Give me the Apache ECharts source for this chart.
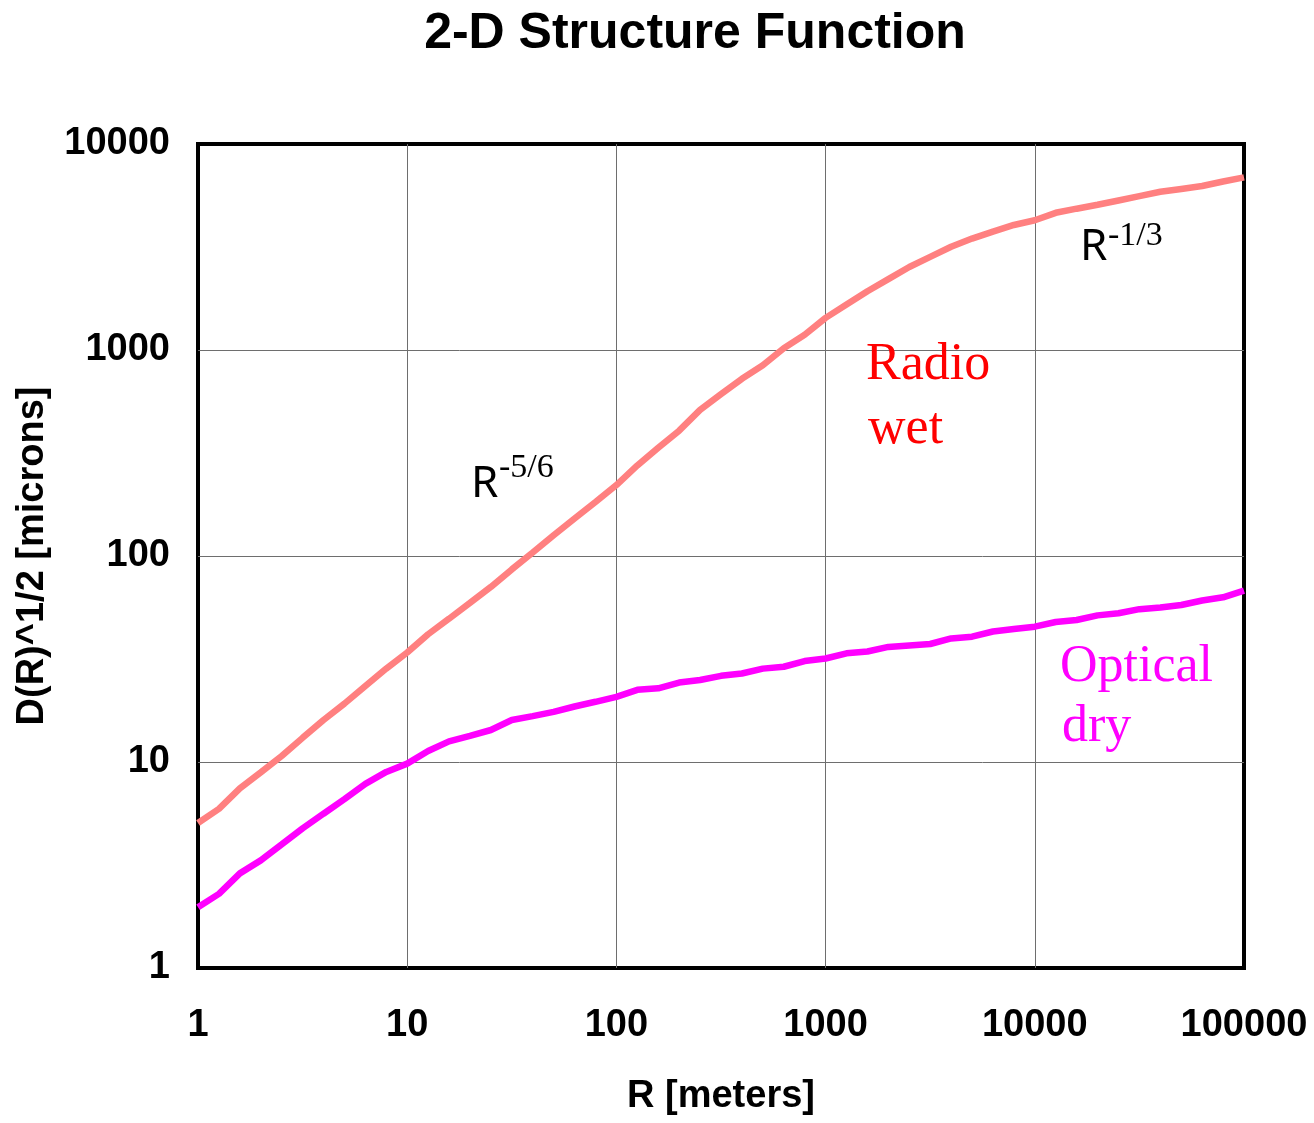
<!DOCTYPE html>
<html>
<head>
<meta charset="utf-8">
<title>2-D Structure Function</title>
<script src="https://cdn.jsdelivr.net/npm/echarts@6/dist/echarts.min.js"></script>
<style>
  html, body { margin: 0; padding: 0; background: #fff; }
  #chart { width: 1314px; height: 1123px; }
</style>
</head>
<body>
<div id="chart"></div>
<script>
// Separation R in meters, 10 samples per decade
const rMeters = [
  1, 1.259, 1.585, 1.995, 2.512, 3.162, 3.981, 5.012, 6.31, 7.943,
  10, 12.59, 15.85, 19.95, 25.12, 31.62, 39.81, 50.12, 63.1, 79.43,
  100, 125.9, 158.5, 199.5, 251.2, 316.2, 398.1, 501.2, 631, 794.3,
  1000, 1259, 1585, 1995, 2512, 3162, 3981, 5012, 6310, 7943,
  10000, 12589, 15849, 19953, 25119, 31623, 39811, 50119, 63096, 79433,
  100000
];

// D(R)^1/2 in microns, radio (wet) path
const radioWet = [
  5.06, 5.92, 7.45, 8.91, 10.7, 13.1, 16.0, 19.2, 23.4, 28.4,
  34.0, 41.7, 49.6, 59.2, 70.8, 86.1, 104, 126, 152, 183,
  221, 275, 335, 406, 512, 610, 725, 843, 1021, 1186,
  1432, 1663, 1928, 2208, 2529, 2832, 3170, 3475, 3758, 4045,
  4266, 4634, 4853, 5070, 5321, 5585, 5861, 6053, 6252, 6577,
  6887
];

// D(R)^1/2 in microns, optical (dry) path
const opticalDry = [
  1.97, 2.29, 2.88, 3.33, 3.98, 4.76, 5.61, 6.6, 7.83, 8.95,
  9.82, 11.3, 12.6, 13.4, 14.3, 16.0, 16.7, 17.5, 18.6, 19.6,
  20.7, 22.4, 22.8, 24.3, 25.0, 26.2, 26.9, 28.4, 29.0, 30.9,
  31.8, 33.7, 34.4, 36.2, 36.8, 37.4, 39.8, 40.6, 43.0, 44.2,
  45.4, 47.8, 48.9, 51.5, 52.7, 55.2, 56.2, 57.8, 60.8, 63.0,
  67.9
];

const xRange = [1, 100000];
const yRange = [1, 10000];

const sansBold = '"Liberation Sans", Arial, sans-serif';
const serif = '"Liberation Serif", "Times New Roman", serif';
const plainSans = '"Noto Sans", "Open Sans", sans-serif';

const pairs = (xs, ys) => xs.map((x, i) => [x, ys[i]]);
const tickText = v => String(Math.round(v));

const gridLine = {
  show: true, showMinLine: false, showMaxLine: false,
  lineStyle: { color: '#6e6e6e', width: 1 }
};

const chart = echarts.init(document.getElementById('chart'), null, { renderer: 'canvas' });

chart.setOption({
  backgroundColor: '#ffffff',
  animation: false,
  title: {
    text: '2-D Structure Function',
    left: 690,
    top: 4,
    textAlign: 'center',
    textStyle: { fontFamily: sansBold, fontWeight: 'bold', fontSize: 50, color: '#000' }
  },
  grid: {
    left: 198, top: 144, right: 70, bottom: 155,
    show: true, borderColor: '#000', borderWidth: 4, backgroundColor: '#fff'
  },
  xAxis: {
    type: 'log', logBase: 10, min: xRange[0], max: xRange[1],
    name: 'R [meters]', nameLocation: 'middle', nameGap: 110,
    nameTextStyle: { fontFamily: sansBold, fontWeight: 'bold', fontSize: 38, color: '#000' },
    axisLine: { show: false }, axisTick: { show: false },
    axisLabel: { formatter: tickText, margin: 39, fontFamily: sansBold, fontWeight: 'bold', fontSize: 38, color: '#000' },
    splitLine: gridLine
  },
  yAxis: {
    type: 'log', logBase: 10, min: yRange[0], max: yRange[1],
    name: 'D(R)^1/2 [microns]', nameLocation: 'middle', nameGap: 146,
    nameTextStyle: { fontFamily: sansBold, fontWeight: 'bold', fontSize: 38, color: '#000' },
    axisLine: { show: false }, axisTick: { show: false },
    axisLabel: { formatter: tickText, margin: 28, padding: [6, 0, 0, 0], fontFamily: sansBold, fontWeight: 'bold', fontSize: 38, color: '#000' },
    splitLine: gridLine
  },
  series: [
    {
      name: 'Radio wet', type: 'line', data: pairs(rMeters, radioWet),
      showSymbol: false, smooth: false, clip: true,
      lineStyle: { color: '#ff8080', width: 6.5 }, z: 3
    },
    {
      name: 'Optical dry', type: 'line', data: pairs(rMeters, opticalDry),
      showSymbol: false, smooth: false, clip: true,
      lineStyle: { color: '#ff00ff', width: 6.5 }, z: 3
    }
  ],
  graphic: [
    { type: 'text', left: 1080, top: 225, z: 10,
      style: { text: 'R', font: '44px ' + plainSans, fill: '#000' } },
    { type: 'text', left: 1108, top: 219, z: 10,
      style: { text: '-1/3', font: '34px ' + serif, fill: '#000' } },
    { type: 'text', left: 471, top: 462, z: 10,
      style: { text: 'R', font: '44px ' + plainSans, fill: '#000' } },
    { type: 'text', left: 499, top: 451, z: 10,
      style: { text: '-5/6', font: '34px ' + serif, fill: '#000' } },
    { type: 'text', left: 866, top: 339, z: 10,
      style: { text: 'Radio', font: '52px ' + serif, fill: '#ff0000' } },
    { type: 'text', left: 868, top: 403, z: 10,
      style: { text: 'wet', font: '52px ' + serif, fill: '#ff0000' } },
    { type: 'text', left: 1060, top: 641, z: 10,
      style: { text: 'Optical', font: '52px ' + serif, fill: '#ff00ff' } },
    { type: 'text', left: 1062, top: 701, z: 10,
      style: { text: 'dry', font: '52px ' + serif, fill: '#ff00ff' } }
  ]
});
</script>
</body>
</html>
